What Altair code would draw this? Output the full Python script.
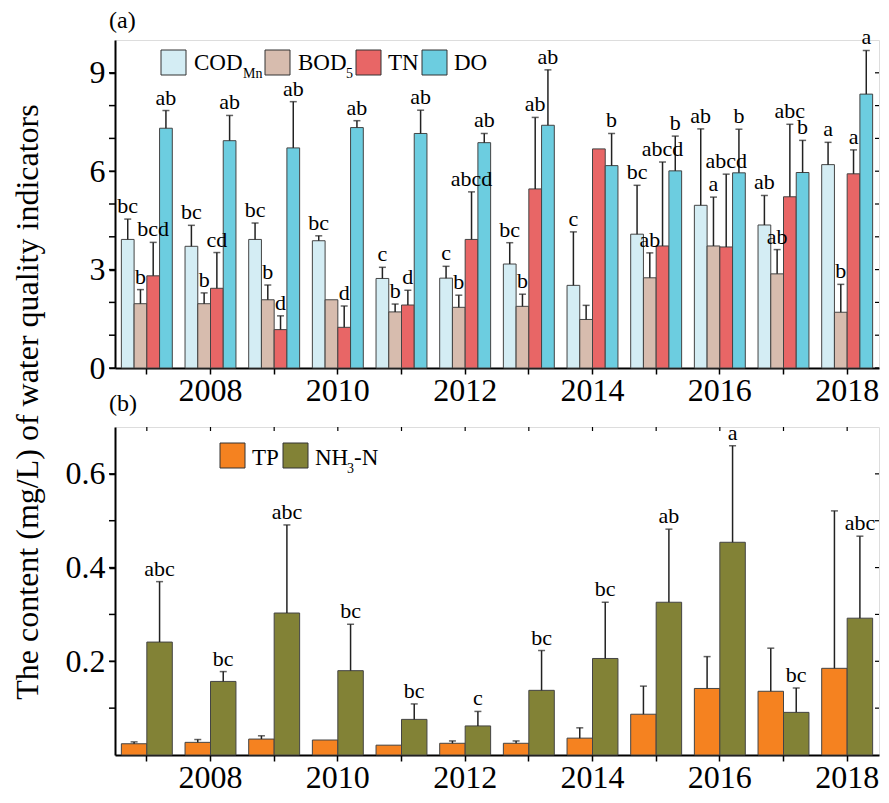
import altair as alt
import pandas as pd

FONT = "Liberation Serif"

years = list(range(2007, 2019))

# Panel (a)
cod = [3.92, 3.71, 3.92, 3.88, 2.73, 2.74, 3.17, 2.52, 4.08, 4.96, 4.36, 6.20]
cod_hi = [4.54, 4.35, 4.42, 4.03, 3.07, 3.10, 3.82, 4.15, 5.57, 7.29, 5.26, 6.88]
cod_lab = ["bc", "bc", "bc", "bc", "c", "c", "bc", "c", "bc", "ab", "ab", "a"]
bod = [1.96, 1.96, 2.08, 2.08, 1.71, 1.85, 1.88, 1.48, 2.75, 3.72, 2.87, 1.70]
bod_hi = [2.39, 2.29, 2.53, None, 1.95, 2.22, 2.25, 1.91, 3.51, 5.21, 3.61, 2.55]
bod_lab = ["b", "b", "b", "", "b", "b", "b", "", "ab", "a", "ab", "b"]
tn = [2.81, 2.43, 1.17, 1.24, 1.92, 3.92, 5.46, 6.68, 3.72, 3.69, 5.22, 5.92]
tn_hi = [3.83, 3.52, 1.59, 1.89, 2.37, 5.37, 7.64, None, 6.28, 5.91, 7.43, 6.65]
tn_lab = ["bcd", "cd", "d", "d", "d", "abcd", "ab", "", "abcd", "abcd", "abc", "a"]
do = [7.31, 6.93, 6.71, 7.33, 7.15, 6.87, 7.40, 6.17, 6.01, 5.95, 5.96, 8.35]
do_hi = [7.85, 7.70, 8.12, 7.54, 7.86, 7.15, 9.09, 7.15, 7.07, 7.28, 6.94, 9.68]
do_lab = ["ab", "ab", "ab", "ab", "ab", "ab", "ab", "b", "b", "b", "b", "a"]

# Panel (b)
tp = [0.024, 0.027, 0.034, 0.032, 0.021, 0.025, 0.025, 0.036, 0.087, 0.142, 0.136, 0.185]
tp_hi = [0.028, 0.033, 0.041, None, None, 0.030, 0.030, 0.058, 0.147, 0.210, 0.228, 0.521]
tp_lab = [""] * 12
nh3 = [0.241, 0.157, 0.303, 0.180, 0.076, 0.062, 0.138, 0.206, 0.326, 0.454, 0.091, 0.292]
nh3_hi = [0.370, 0.178, 0.491, 0.279, 0.109, 0.093, 0.223, 0.326, 0.482, 0.660, 0.143, 0.467]
nh3_lab = ["abc", "bc", "abc", "bc", "bc", "c", "bc", "bc", "ab", "a", "bc", "abc"]

series_a = ["COD", "BOD", "TN", "DO"]
colors_a = ["#d4edf4", "#d7bcae", "#e86666", "#6ccde0"]
series_b = ["TP", "NH3"]
colors_b = ["#f58220", "#828236"]

# axis tick values and labelled values
ticks_a = [0, 1, 2, 3, 4, 5, 6, 7, 8, 9]
labels_a = [0, 3, 6, 9]
ticks_b = [0.1, 0.2, 0.3, 0.4, 0.5, 0.6]
labels_b = [0.2, 0.4, 0.6]

W, H = 764, 328


def long_df(names, vals, his, labs):
    rows = []
    for n, v, h, l in zip(names, vals, his, labs):
        for y, a, b, c in zip(years, v, h, l):
            rows.append({"year": y, "s": n, "v": a, "hi": b, "lab": c})
    return pd.DataFrame(rows)


def panel(df, series, colors, ymax, ylabels, yfmt, yticks, tag, tag_y,
          legend, top_ticks):
    xs = alt.Scale(paddingInner=0.2, paddingOuter=0.1)
    ys = alt.Scale(domain=[0, ymax], nice=False, zero=True)
    offs = alt.XOffset("s:N", scale=alt.Scale(domain=series, paddingInner=0, paddingOuter=0))
    xaxis = alt.Axis(labelExpr="datum.value % 2 == 0 ? datum.label : ''", labelAngle=0,
                     labelFont=FONT, labelFontSize=32, labelColor="black", labelOverlap=False,
                     tickColor="black", tickSize=6, tickWidth=1.5, domainColor="black",
                     domainWidth=2, labelPadding=1, title=None)
    yaxis = alt.Axis(values=ylabels, format=yfmt, labelFont=FONT,
                     labelFontSize=32, labelColor="black", labelOverlap=False,
                     tickColor="black", tickSize=6,
                     tickWidth=1.5, domainColor="black", domainWidth=2, labelPadding=4,
                     grid=False, title=None)
    base = alt.Chart(df)
    bars = base.mark_bar(stroke="#444", strokeWidth=1).encode(
        x=alt.X("year:O", scale=xs, axis=xaxis),
        xOffset=offs,
        y=alt.Y("v:Q", scale=ys, axis=yaxis),
        fill=alt.Fill("s:N", scale=alt.Scale(domain=series, range=colors), legend=None),
    )
    err = base.transform_filter("isValid(datum.hi)").mark_rule(color="#222", strokeWidth=1.5).encode(
        x=alt.X("year:O", scale=xs, title=None), xOffset=offs,
        y=alt.Y("v:Q", scale=ys, title=None), y2="hi:Q")
    caps = base.transform_filter("isValid(datum.hi)").mark_tick(color="#222", thickness=1.5, size=7).encode(
        x=alt.X("year:O", scale=xs, title=None), xOffset=offs,
        y=alt.Y("hi:Q", scale=ys, title=None))
    labs = base.transform_filter("datum.lab != ''").mark_text(
        baseline="bottom", dy=-1, font=FONT, fontSize=22, color="black").encode(
        x=alt.X("year:O", scale=xs, title=None), xOffset=offs,
        y=alt.Y("hi:Q", scale=ys, title=None), text="lab:N")
    tick_df = pd.DataFrame({"t": yticks})
    rt = alt.Chart(tick_df).mark_rule(color="black", strokeWidth=1.2).encode(
        y=alt.Y("t:Q", scale=ys, title=None), x=alt.value(W - 4), x2=alt.value(W))
    lt = alt.Chart(tick_df).mark_rule(color="black", strokeWidth=1.5).encode(
        y=alt.Y("t:Q", scale=ys, title=None), x=alt.value(-6), x2=alt.value(0))
    layers = [bars, err, caps, labs, rt, lt]
    if top_ticks:
        tt = alt.Chart(pd.DataFrame({"year": years})).mark_rule(color="black", strokeWidth=1.2).encode(
            x=alt.X("year:O", scale=xs, title=None), y=alt.value(0), y2=alt.value(4))
        layers.append(tt)
    one = pd.DataFrame({"k": [0]})
    layers.append(alt.Chart(one).mark_text(text=tag, font=FONT, fontSize=24, align="left",
                                           baseline="top", color="black").encode(
        x=alt.value(-6), y=alt.value(tag_y)))
    for kind, x, y, a, b in legend:
        if kind == "rect":
            layers.append(alt.Chart(one).mark_rect(stroke="#333", strokeWidth=1, fill=a).encode(
                x=alt.value(x), x2=alt.value(x + 25), y=alt.value(y), y2=alt.value(y + 25)))
        else:
            layers.append(alt.Chart(one).mark_text(text=a, font=FONT, fontSize=b, align="left",
                                                   baseline="alphabetic", color="black").encode(
                x=alt.value(x), y=alt.value(y)))
    return alt.layer(*layers).properties(width=W, height=H)


df_a = long_df(series_a, [cod, bod, tn, do], [cod_hi, bod_hi, tn_hi, do_hi],
               [cod_lab, bod_lab, tn_lab, do_lab])
df_b = long_df(series_b, [tp, nh3], [tp_hi, nh3_hi], [tp_lab, nh3_lab])

leg_a = [
    ("rect", 46, 10, colors_a[0], None), ("text", 79, 30, "COD", 23), ("text", 128, 38, "Mn", 14),
    ("rect", 150, 10, colors_a[1], None), ("text", 183, 30, "BOD", 23), ("text", 231, 38, "5", 14),
    ("rect", 241, 10, colors_a[2], None), ("text", 273, 30, "TN", 23),
    ("rect", 307, 10, colors_a[3], None), ("text", 339, 30, "DO", 23),
]
leg_b = [
    ("rect", 105, 16, colors_b[0], None), ("text", 137, 38, "TP", 23),
    ("rect", 168, 16, colors_b[1], None), ("text", 200, 38, "NH", 23), ("text", 232, 46, "3", 14),
    ("text", 239, 38, "-N", 23),
]

pa = panel(df_a, series_a, colors_a, 10, labels_a, "d", ticks_a, "(a)", -31, leg_a, False)
title = alt.Chart(pd.DataFrame({"k": [0]})).mark_text(
    text="The content (mg/L) of water quality indicators", font=FONT, fontSize=32, angle=270,
    align="center", baseline="middle", color="black").encode(x=alt.value(-87), y=alt.value(362))
pa = alt.layer(pa, title)

pb = panel(df_b, series_b, colors_b, 0.7, labels_b, ".1f", ticks_b, "(b)", -35, leg_b, True)

chart = alt.vconcat(pa, pb, spacing=59, bounds="flush").resolve_scale(
    x="independent", y="independent", fill="independent", xOffset="independent"
).properties(
    padding={"left": 3, "top": 0, "right": 0, "bottom": 0}
).configure_view(stroke="black", strokeWidth=1.2).configure(background="white")

chart.save("out.html", embed_options={"renderer": "svg", "actions": False})
